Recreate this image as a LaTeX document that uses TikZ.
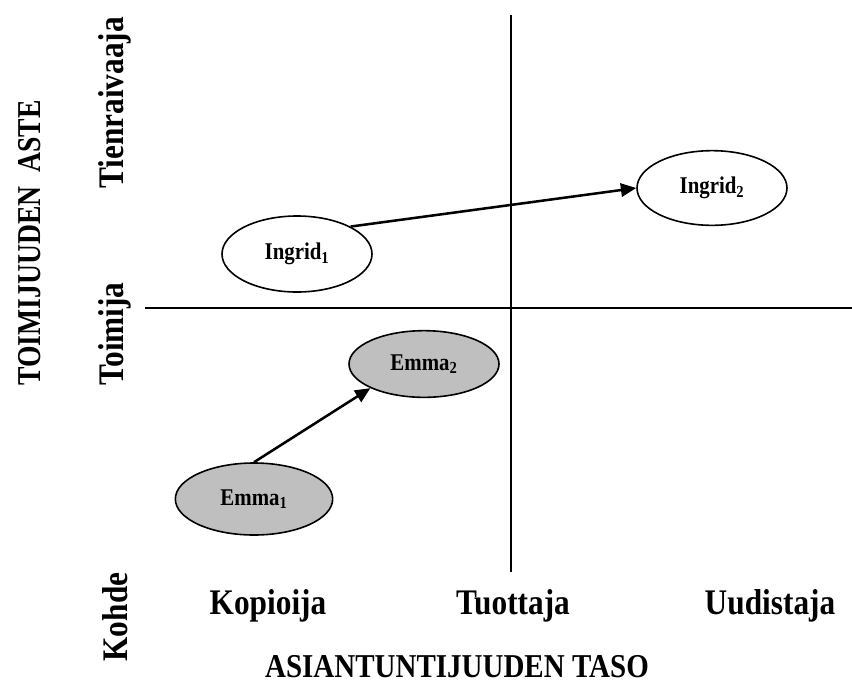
\documentclass[tikz,border=0pt]{standalone}
\usepackage{fontspec}
\usepackage{graphicx}
\setmainfont{Liberation Serif}
\usetikzlibrary{shapes.geometric,arrows.meta}
\newcommand{\narrowtxt}[1]{\scalebox{0.87}[1]{#1}}
\newcommand{\narrowertxt}[1]{\scalebox{0.83}[1]{#1}}
\begin{document}
\begin{tikzpicture}[x=0.75pt,y=-0.75pt,
  bigtxt/.style={font=\fontsize{27}{30}\selectfont\bfseries, inner sep=0pt},
  axtitle/.style={font=\fontsize{25}{28}\selectfont\bfseries, inner sep=0pt},
  oval/.style={ellipse, draw, line width=1.2pt, inner sep=0pt,
    font=\fontsize{18}{20}\selectfont\bfseries},
  gray oval/.style={oval, fill=black!25},
  axis line/.style={line width=1.6pt},
  move/.style={line width=1.9pt, -{Triangle[length=11.5pt,width=10pt]}}]
\useasboundingbox (0,0) rectangle (852,689);
% axes
\coordinate (hl) at (145,308);
\coordinate (hr) at (852,308);
\coordinate (vt) at (511,15);
\coordinate (vb) at (511,572);
\draw[axis line] (hl) -- (hr);
\draw[axis line] (vt) -- (vb);
% ellipses
\node[oval, minimum width=112.5pt, minimum height=57pt] (i1) at (297,254) {\narrowtxt{Ingrid\textsubscript{1}}};
\node[oval, minimum width=112.5pt, minimum height=56pt] (i2) at (712,188) {\narrowtxt{Ingrid\textsubscript{2}}};
\node[gray oval, minimum width=112.5pt, minimum height=50pt] (e2) at (424,364) {\narrowtxt{Emma\textsubscript{2}}};
\node[gray oval, minimum width=118pt, minimum height=54pt] (e1) at (254,499) {\narrowtxt{Emma\textsubscript{1}}};
% arrows
\draw[move] (i1.north east) -- (i2.west);
\draw[move] (e1.north) -- (e2.south west);
% bottom labels
\node[bigtxt] (kop) at (268,606) {\narrowtxt{Kopioija}};
\node[bigtxt] (tuo) at (513,606) {\narrowtxt{Tuottaja}};
\node[bigtxt] (uud) at (770,606) {\narrowtxt{Uudistaja}};
\node[axtitle] (xt) at (457,667) {\narrowtxt{ASIANTUNTIJUUDEN TASO}};
% side labels
\node[bigtxt, rotate=90] (tie) at (115,103) {\narrowtxt{Tienraivaaja}};
\node[bigtxt, rotate=90] (toi) at (115,334) {\narrowtxt{Toimija}};
\node[bigtxt, rotate=90] (koh) at (115,617) {\narrowtxt{Kohde}};
\node[axtitle, rotate=90] (yt) at (30,243) {\narrowertxt{TOIMIJUUDEN\ \ ASTE}};
\end{tikzpicture}
\end{document}
